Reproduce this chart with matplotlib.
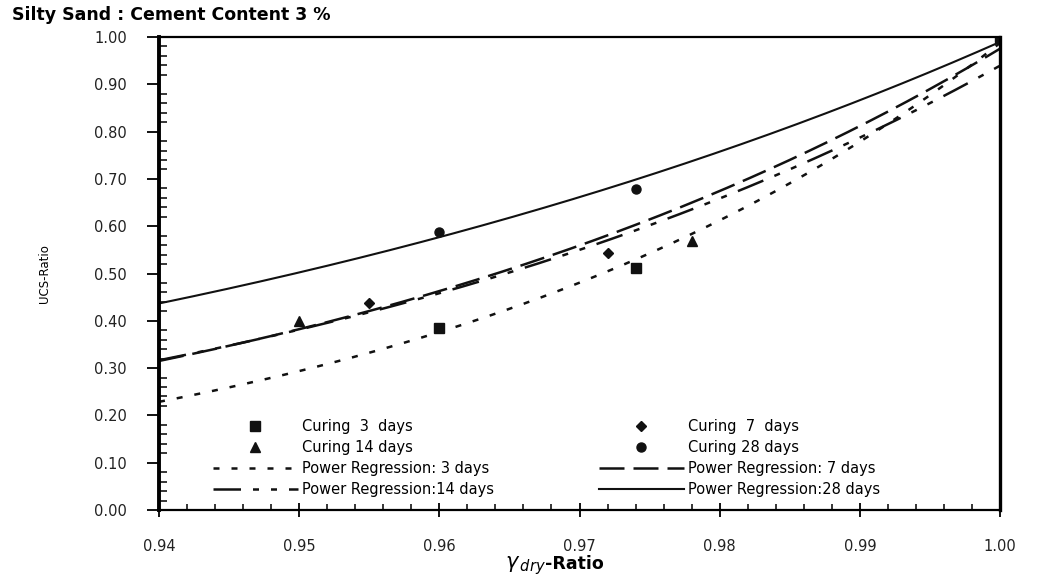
import numpy as np
import matplotlib
matplotlib.use('Agg')
import matplotlib.pyplot as plt
from matplotlib.ticker import MultipleLocator, FormatStrFormatter
from matplotlib.lines import Line2D

# UCS ratio vs dry density ratio, silty sand with 3 % cement
x_3d = [0.960, 0.974, 1.000]
y_3d = [0.385, 0.511, 1.000]
x_7d = [0.955, 0.972, 1.000]
y_7d = [0.438, 0.544, 1.000]
x_14d = [0.950, 0.978, 1.000]
y_14d = [0.400, 0.569, 1.000]
x_28d = [0.960, 0.974, 1.000]
y_28d = [0.588, 0.678, 1.000]


def power_fit(x, y):
    # y = a * x^b, least squares in log space
    b, ln_a = np.polyfit(np.log(x), np.log(y), 1)
    return np.exp(ln_a), b


plt.rcParams['font.family'] = ['DejaVu Sans']
fig = plt.figure(figsize=(10.38, 5.81), dpi=100)
ax = fig.add_axes([0.1532, 0.1222, 0.8102, 0.8141])

xs = np.linspace(0.94, 1.0, 300)
ink = '#111111'
dash_3d = (2.4, 4.8)
dash_7d = (10, 3.6)
dash_14d = (11, 4.8, 2.4, 4.8, 2.4, 4.8)

a, b = power_fit(x_3d, y_3d)
ax.plot(xs, a * xs**b, color=ink, lw=1.8, dashes=dash_3d)
a, b = power_fit(x_7d, y_7d)
ax.plot(xs, a * xs**b, color=ink, lw=1.8, dashes=dash_7d)
a, b = power_fit(x_14d, y_14d)
ax.plot(xs, a * xs**b, color=ink, lw=1.8, dashes=dash_14d)
a, b = power_fit(x_28d, y_28d)
ax.plot(xs, a * xs**b, color=ink, lw=1.5)

ax.plot(x_3d, y_3d, ls='none', marker='s', ms=6.5, color=ink)
ax.plot(x_7d, y_7d, ls='none', marker='D', ms=5, color=ink)
ax.plot(x_14d, y_14d, ls='none', marker='^', ms=7, color=ink)
ax.plot(x_28d, y_28d, ls='none', marker='o', ms=6.5, color=ink)

ax.set_xlim(0.94, 1.00)
ax.set_ylim(0.0, 1.0)
ax.xaxis.set_major_locator(MultipleLocator(0.01))
ax.xaxis.set_minor_locator(MultipleLocator(0.002))
ax.yaxis.set_major_locator(MultipleLocator(0.1))
ax.yaxis.set_minor_locator(MultipleLocator(0.02))
ax.xaxis.set_major_formatter(FormatStrFormatter('%.2f'))
ax.yaxis.set_major_formatter(FormatStrFormatter('%.2f'))

ax.tick_params(axis='y', which='major', direction='out', length=9, width=1.3,
               pad=14, labelsize=10.5, labelcolor='#222222')
ax.tick_params(axis='y', which='minor', direction='in', length=6, width=1.1)
ax.tick_params(axis='x', which='major', direction='inout', length=10, width=1.3,
               pad=16, labelsize=10.5, labelcolor='#222222')
ax.tick_params(axis='x', which='minor', direction='in', length=4, width=1.1)

ax.spines['left'].set_linewidth(2.8)
ax.spines['right'].set_linewidth(2.4)
ax.spines['bottom'].set_linewidth(1.6)
ax.spines['top'].set_linewidth(1.6)

ax.set_ylabel('UCS-Ratio', fontsize=8.5, family=['Liberation Sans Narrow', 'DejaVu Sans'])
ax.yaxis.set_label_coords(-0.128, 0.5)

fig.text(0.5255, 0.026, r'$\gamma_{\,dry}$', fontsize=15, ha='right', va='center')
fig.text(0.5255, 0.029, '-Ratio', fontsize=12.5, fontweight='bold', ha='left', va='center')

fig.text(0.012, 0.975, 'Silty Sand : Cement Content 3 %', fontsize=12.5,
         fontweight='bold', ha='left', va='center')

handles = [
    Line2D([], [], ls='none', marker='s', ms=6.5, color=ink),
    Line2D([], [], ls='none', marker='^', ms=7, color=ink),
    Line2D([], [], color=ink, lw=1.8, dashes=dash_3d),
    Line2D([], [], color=ink, lw=1.8, dashes=dash_14d),
    Line2D([], [], ls='none', marker='D', ms=5, color=ink),
    Line2D([], [], ls='none', marker='o', ms=6.5, color=ink),
    Line2D([], [], color=ink, lw=1.8, dashes=dash_7d),
    Line2D([], [], color=ink, lw=1.5),
]
labels = ['Curing  3  days', 'Curing 14 days', 'Power Regression: 3 days',
          'Power Regression:14 days', 'Curing  7  days', 'Curing 28 days',
          'Power Regression: 7 days', 'Power Regression:28 days']
ax.legend(handles, labels, ncol=2, loc='lower left', bbox_to_anchor=(0.052, 0.005),
          frameon=False, fontsize=10.5, handlelength=5.8, handletextpad=0.3,
          columnspacing=7.2, labelspacing=0.42, borderpad=0.2)

fig.savefig('out.png', dpi=100)
